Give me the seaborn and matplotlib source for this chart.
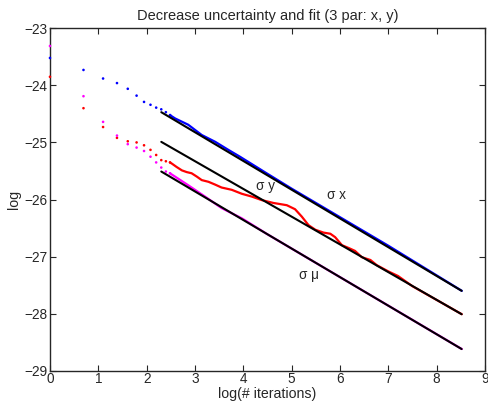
import numpy as np
import pandas as pd
import matplotlib
matplotlib.use("Agg")
import matplotlib.pyplot as plt
import seaborn as sns

# early iterations (n = 1..12)
n_early = [1, 2, 3, 4, 5, 6, 7, 8, 9, 10, 11, 12]
sx_early = [-23.52, -23.73, -23.88, -23.96, -24.06, -24.18, -24.29, -24.34, -24.39, -24.42, -24.47, -24.52]
sy_early = [-23.85, -24.40, -24.73, -24.92, -24.98, -25.00, -25.05, -25.13, -25.22, -25.31, -25.33, -25.35]
smu_early = [-23.31, -24.19, -24.64, -24.88, -25.03, -25.09, -25.15, -25.25, -25.35, -25.44, -25.51, -25.54]

# dense part (many iterations), traced as log(n) / log(sigma)
x_dense_x = [2.48, 2.59, 2.86, 3.14, 3.42, 3.69, 3.93, 4.5, 5.0, 6.0, 7.0, 8.52]
sx_dense = [-24.52, -24.58, -24.69, -24.87, -24.99, -25.13, -25.25, -25.55, -25.81, -26.31, -26.81, -27.60]

x_dense_y = [2.48, 2.52, 2.62, 2.73, 2.83, 2.93, 3.04, 3.14, 3.28, 3.42, 3.55, 3.76, 3.97,
             4.18, 4.38, 4.62, 4.90, 5.07, 5.21, 5.35, 5.49, 5.66, 5.80, 5.90, 6.04, 6.18,
             6.31, 6.45, 6.63, 6.76, 7.0, 7.2, 7.5, 8.0, 8.52]
sy_dense = [-25.35, -25.37, -25.43, -25.49, -25.52, -25.54, -25.60, -25.66, -25.69, -25.74,
            -25.79, -25.83, -25.90, -25.95, -26.01, -26.06, -26.10, -26.17, -26.30, -26.45,
            -26.53, -26.58, -26.60, -26.66, -26.80, -26.85, -26.90, -27.01, -27.06, -27.15,
            -27.26, -27.34, -27.52, -27.76, -28.01]

x_dense_mu = [2.48, 2.59, 2.86, 3.21, 3.55, 3.97, 4.5, 6.0, 7.0, 8.52]
smu_dense = [-25.54, -25.60, -25.75, -25.95, -26.15, -26.33, -26.61, -27.36, -27.86, -28.62]

# fitted lines (slope ~ -1/2)
fit_x = [2.303, 8.517]
fit_sx = [-24.47, -27.60]
fit_sy = [-24.99, -28.01]
fit_smu = [-25.51, -28.62]

labels = ["\u03c3 x", "\u03c3 y", "\u03c3 \u03bc"]
label_pos = [(5.93, -25.92), (4.45, -25.76), (5.35, -27.33)]

sns.set_style("ticks")
plt.rcParams["font.family"] = ["Liberation Sans", "DejaVu Sans"]

fig = plt.figure(figsize=(4.89, 4.03), dpi=100)
ax = fig.add_axes([0.1022, 0.0801, 0.8896, 0.8497])

colors = {"x": "#0000ff", "y": "#ff0000", "mu": "#ff00ff"}
fs = 9.8

early = pd.DataFrame({
    "logn": np.log(n_early * 3),
    "val": sx_early + sy_early + smu_early,
    "par": ["x"] * 12 + ["y"] * 12 + ["mu"] * 12,
})
sns.scatterplot(data=early, x="logn", y="val", hue="par", palette=colors, marker="o",
                s=3.5, linewidth=0, edgecolor="none", legend=False, ax=ax, zorder=3, clip_on=False)

for xs, ys, c in [(x_dense_x, sx_dense, "x"), (x_dense_y, sy_dense, "y"), (x_dense_mu, smu_dense, "mu")]:
    d = pd.DataFrame({"logn": xs, "val": ys})
    sns.lineplot(data=d, x="logn", y="val", color=colors[c], lw=1.6, ax=ax, zorder=2)

for ys in [fit_sx, fit_sy, fit_smu]:
    d = pd.DataFrame({"logn": fit_x, "val": ys})
    sns.lineplot(data=d, x="logn", y="val", color="black", lw=1.5, ax=ax, zorder=4)

for lab, (lx, ly) in zip(labels, label_pos):
    ax.text(lx, ly, lab, fontsize=fs, ha="center", va="center")

ax.set_xlim(0, 9)
ax.set_ylim(-29, -23)
ax.set_xticks(range(0, 10))
ax.set_yticks(range(-29, -22))
ax.set_yticklabels(["\u221229", "\u221228", "\u221227", "\u221226", "\u221225", "\u221224", "\u221223"])
ax.tick_params(direction="in", top=True, right=True, labelsize=fs, length=4, width=0.8, pad=2)
ax.tick_params(axis="x", pad=1)
for s in ax.spines.values():
    s.set_linewidth(1.0)
ax.set_xlabel("log(# iterations)", fontsize=10.2, labelpad=0.5)
ax.set_ylabel("log", fontsize=10.2, labelpad=2)
ax.set_title("Decrease uncertainty and fit (3 par: x, y)", fontsize=10.5, pad=6)

fig.savefig("out.png", dpi=100)
